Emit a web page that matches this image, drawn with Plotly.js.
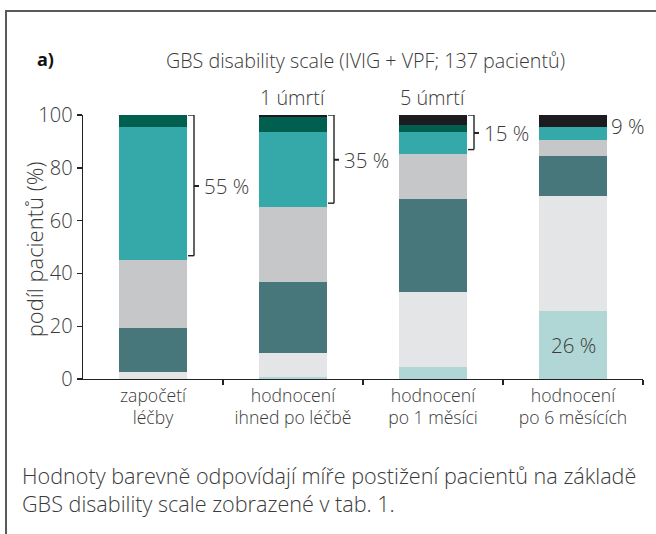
<!DOCTYPE html>
<html>
<head>
<meta charset="utf-8">
<script src="https://cdn.plot.ly/plotly-3.0.1.min.js"></script>
<style>
html,body{margin:0;padding:0;background:#fff;}
#wrap{position:relative;width:656px;height:534px;overflow:hidden;}
#frame{position:absolute;left:5px;top:10px;width:660px;height:540px;border-top:2px solid #5a5a5a;border-left:2px solid #5a5a5a;pointer-events:none;}
#chart{position:absolute;left:0;top:0;width:656px;height:534px;}
</style>
</head>
<body>
<div id="wrap"><div id="chart"></div><div id="frame"></div></div>
<script>
// ---- data ----
const categories = ['započetí<br>léčby', 'hodnocení<br>ihned po léčbě', 'hodnocení<br>po 1 měsíci', 'hodnocení<br>po 6 měsících'];
const grade0 = [0.0, 0.7, 4.7, 25.6];   // zdravý
const grade1 = [2.8, 9.1, 28.1, 43.7];
const grade2 = [16.7, 26.9, 35.5, 15.2];
const grade3 = [25.7, 28.4, 17.1, 6.1];
const grade4 = [50.3, 28.5, 8.1, 5.0];
const grade5 = [4.5, 5.7, 2.9, 0.0];
const grade6 = [0.0, 0.7, 3.6, 4.4];    // úmrtí
const deaths = [0, 1, 5, 6];
const yTicks = [0, 20, 40, 60, 80, 100];

// ---- styles ----
const colors = ['#b0d6d5', '#e4e5e7', '#47777a', '#c6c7c9', '#35a9aa', '#005f4f', '#1c1b20'];
const grades = [grade0, grade1, grade2, grade3, grade4, grade5, grade6];
const txt = '#3a3a3a';
const FONT = '"Open Sans", "Noto Sans", sans-serif';
const W = 300;
const f = (size, color) => ({family: FONT, size: size, color: color || txt, weight: W});
const xs = categories.map((c, i) => i);

const traces = grades.map((g, k) => ({
  type: 'bar', x: xs, y: g, width: 0.49,
  marker: {color: colors[k], line: {width: 0}},
  hoverinfo: 'skip', showlegend: false
}));

const PX = 1 / 140; // one pixel in x data units
const annotations = [];
const shapes = [];

// title, panel letter
annotations.push({xref: 'paper', yref: 'paper', x: 0.5036, y: 1.208, xanchor: 'center', yanchor: 'middle',
  text: 'GBS disability scale (IVIG + VPF; 137 pacientů)', showarrow: false, font: f(19.7)});
annotations.push({xref: 'paper', yref: 'paper', x: -0.086, y: 1.212, xanchor: 'left', yanchor: 'middle',
  text: '<b>a)</b>', showarrow: false, font: {family: FONT, size: 18, color: '#111', weight: 700}});
// y title
annotations.push({xref: 'paper', yref: 'paper', x: -0.088, y: 0.49, xanchor: 'center', yanchor: 'middle', textangle: -90,
  text: 'podíl pacientů (%)', showarrow: false, font: f(22)});
// footer
annotations.push({xref: 'paper', yref: 'paper', x: -0.1125, y: -0.364, xanchor: 'left', yanchor: 'middle',
  text: 'Hodnoty barevně odpovídají míře postižení pacientů na základě', showarrow: false, font: f(21.6)});
annotations.push({xref: 'paper', yref: 'paper', x: -0.1125, y: -0.47, xanchor: 'left', yanchor: 'middle',
  text: 'GBS disability scale zobrazené v tab. 1.', showarrow: false, font: f(21.6)});

xs.forEach(i => {
  const total = grades.reduce((s, g) => s + g[i], 0);
  if (deaths[i] > 0) {
    annotations.push({x: i, y: total, xanchor: 'center', yanchor: 'bottom', yshift: 2,
      text: deaths[i] + ' úmrtí', showarrow: false, font: f(19.8)});
  }
  const topSum = grade4[i] + grade5[i] + grade6[i];
  const yTop = total, yBot = total - topSum;
  const yMid = (yTop + yBot + 1) / 2;
  const hasBracket = grade5[i] > 0;
  if (hasBracket) {
    const xv = i + 41 * PX;
    const xs0 = i + 35 * PX;
    const lineSt = {color: '#222', width: 1.4};
    shapes.push({type: 'line', x0: xs0, x1: xv, y0: yTop, y1: yTop, line: lineSt});
    shapes.push({type: 'line', x0: xv, x1: xv, y0: yTop, y1: yBot + 1.5, line: lineSt});
    shapes.push({type: 'line', x0: xs0, x1: xv, y0: yBot + 1.5, y1: yBot + 1.5, line: lineSt});
    shapes.push({type: 'line', x0: xv, x1: xv + 5 * PX, y0: yMid, y1: yMid, line: {color: '#222', width: 2}});
  }
  annotations.push({x: i, y: yMid, xanchor: 'left', yanchor: 'middle', xshift: hasBracket ? 49 : 36,
    text: Math.round(topSum) + ' %', showarrow: false, font: f(20.5)});
});
// healthy share label
annotations.push({x: 3, y: grade0[3] / 2, xanchor: 'center', yanchor: 'middle',
  text: Math.round(grade0[3]) + ' %', showarrow: false, font: f(20.5)});

const layout = {
  width: 656, height: 534,
  margin: {l: 83, r: 13, t: 115, b: 155, pad: 0},
  paper_bgcolor: '#fff', plot_bgcolor: '#fff',
  barmode: 'stack', bargap: 0.51,
  font: {family: FONT, color: txt, weight: W},
  showlegend: false,
  xaxis: {
    type: 'linear', range: [-0.5, 3.5], fixedrange: true,
    tickmode: 'array', tickvals: xs, ticktext: categories, ticks: '',
    tickfont: f(17.6),
    showline: true, linecolor: '#222', linewidth: 1.4, showgrid: false, zeroline: false,
    minor: {tickmode: 'array', tickvals: [0.5, 1.5, 2.5, 3.5], ticks: 'outside', ticklen: 5, tickwidth: 1.4, tickcolor: '#222', showgrid: false}
  },
  yaxis: {
    range: [0, 100], fixedrange: true,
    tickmode: 'array', tickvals: yTicks, ticks: 'outside', ticklen: 5, tickwidth: 1.4, tickcolor: '#222',
    tickfont: f(20),
    showline: true, linecolor: '#222', linewidth: 1.4, showgrid: false, zeroline: false
  },
  annotations: annotations,
  shapes: shapes
};

Plotly.newPlot('chart', traces, layout, {displayModeBar: false, staticPlot: true});
</script>
</body>
</html>
